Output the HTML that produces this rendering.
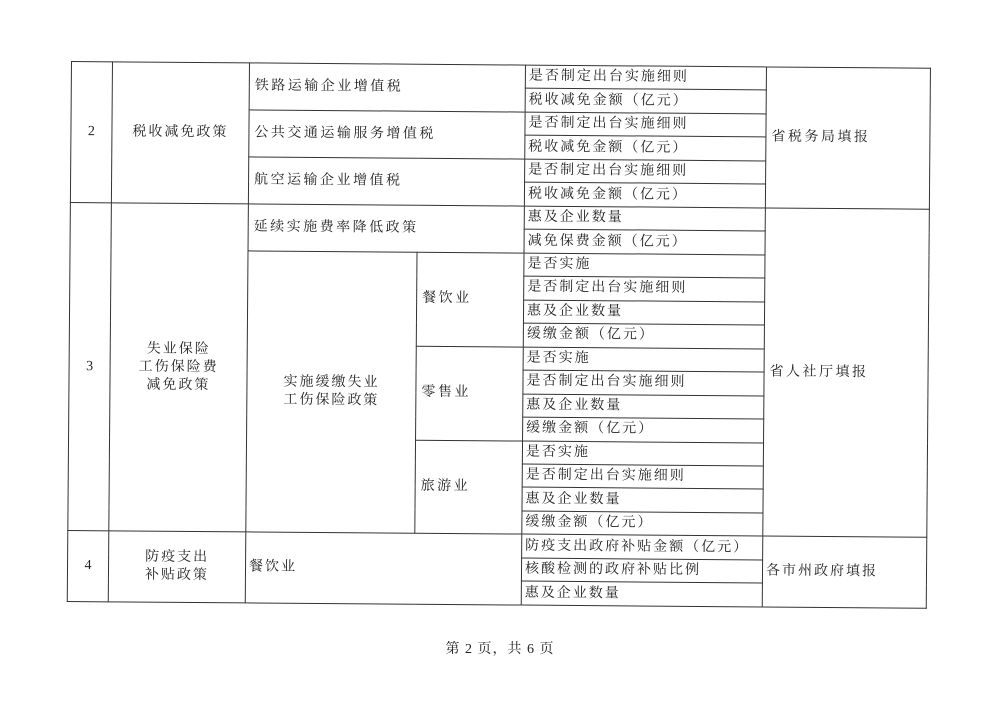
<!DOCTYPE html>
<html><head><meta charset="utf-8"><style>
html,body{margin:0;padding:0;background:#fff;width:1000px;height:707px;overflow:hidden;}
#wrap{position:absolute;left:71px;top:61px;width:859px;height:540px;transform-origin:0 0;transform:rotate(0.45deg);}
table{border-collapse:collapse;table-layout:fixed;width:859px;height:540px;font-family:"Liberation Serif","Noto Serif CJK SC",serif;font-size:14px;color:#222;}
td{border:1.5px solid #333;padding:0;line-height:18px;overflow:hidden;white-space:nowrap;}
tr{height:23.48px;}
.c{text-align:center;letter-spacing:2px;}
.l{padding-left:5px;letter-spacing:2.5px;}
.s{padding-left:3px;letter-spacing:2px;}
.n{text-align:center;}
#foot{position:absolute;left:0;width:1000px;top:638px;text-align:center;font-family:"Liberation Serif","Noto Serif CJK SC",serif;font-size:14px;color:#222;letter-spacing:1px;}
</style></head><body>
<div id="wrap"><table>
<colgroup><col style="width:41px"><col style="width:137px"><col style="width:169px"><col style="width:107px"><col style="width:241px"><col style="width:164px"></colgroup>
<tr><td class="n" rowspan="6">2</td><td class="c" rowspan="6">税收减免政策</td><td class="l" colspan="2" rowspan="2">铁路运输企业增值税</td><td class="s">是否制定出台实施细则</td><td class="l" rowspan="6">省税务局填报</td></tr>
<tr><td class="s">税收减免金额（亿元）</td></tr>
<tr><td class="l" colspan="2" rowspan="2">公共交通运输服务增值税</td><td class="s">是否制定出台实施细则</td></tr>
<tr><td class="s">税收减免金额（亿元）</td></tr>
<tr><td class="l" colspan="2" rowspan="2">航空运输企业增值税</td><td class="s">是否制定出台实施细则</td></tr>
<tr><td class="s">税收减免金额（亿元）</td></tr>
<tr><td class="n" rowspan="14">3</td><td class="c" rowspan="14">失业保险<br>工伤保险费<br>减免政策</td><td class="l" colspan="2" rowspan="2">延续实施费率降低政策</td><td class="s">惠及企业数量</td><td class="l" rowspan="14">省人社厅填报</td></tr>
<tr><td class="s">减免保费金额（亿元）</td></tr>
<tr><td class="c" rowspan="12">实施缓缴失业<br>工伤保险政策</td><td class="l" rowspan="4">餐饮业</td><td class="s">是否实施</td></tr>
<tr><td class="s">是否制定出台实施细则</td></tr>
<tr><td class="s">惠及企业数量</td></tr>
<tr><td class="s">缓缴金额（亿元）</td></tr>
<tr><td class="l" rowspan="4">零售业</td><td class="s">是否实施</td></tr>
<tr><td class="s">是否制定出台实施细则</td></tr>
<tr><td class="s">惠及企业数量</td></tr>
<tr><td class="s">缓缴金额（亿元）</td></tr>
<tr><td class="l" rowspan="4">旅游业</td><td class="s">是否实施</td></tr>
<tr><td class="s">是否制定出台实施细则</td></tr>
<tr><td class="s">惠及企业数量</td></tr>
<tr><td class="s">缓缴金额（亿元）</td></tr>
<tr><td class="n" rowspan="3">4</td><td class="c" rowspan="3">防疫支出<br>补贴政策</td><td class="s" colspan="2" rowspan="3">餐饮业</td><td class="s">防疫支出政府补贴金额（亿元）</td><td class="s" rowspan="3">各市州政府填报</td></tr>
<tr><td class="s">核酸检测的政府补贴比例</td></tr>
<tr><td class="s">惠及企业数量</td></tr>
</table></div>
<div id="foot">第 2 页，共 6 页</div>
</body></html>
